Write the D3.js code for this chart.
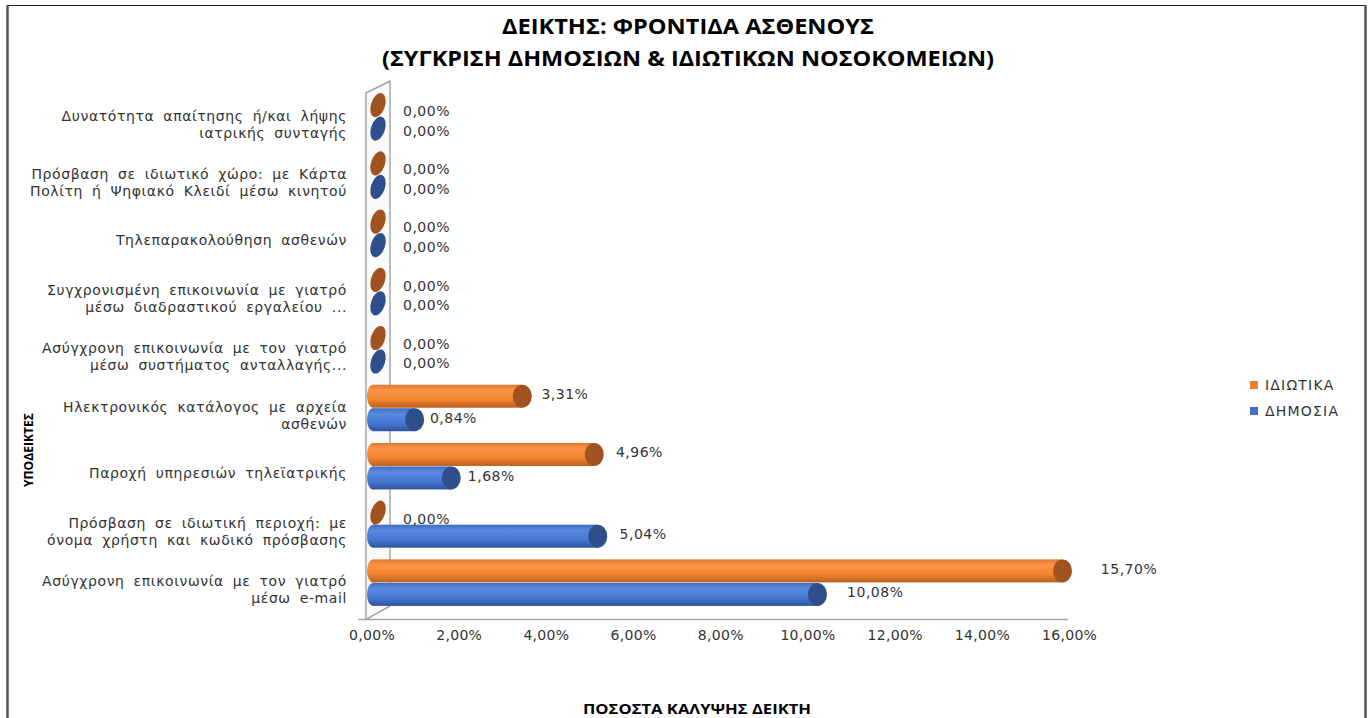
<!DOCTYPE html>
<html><head><meta charset="utf-8">
<script src="https://cdn.jsdelivr.net/npm/d3@7/dist/d3.min.js"></script>
<style>html,body{margin:0;padding:0;background:#fff;}svg{display:block;}</style>
</head><body>
<script>
// ---- data (top to bottom) ----
const categories = [
  ["Δυνατότητα απαίτησης ή/και λήψης", "ιατρικής συνταγής"],
  ["Πρόσβαση σε ιδιωτικό χώρο: με Κάρτα", "Πολίτη ή Ψηφιακό Κλειδί μέσω κινητού"],
  ["Τηλεπαρακολούθηση ασθενών"],
  ["Συγχρονισμένη επικοινωνία με γιατρό", "μέσω διαδραστικού εργαλείου ..."],
  ["Ασύγχρονη επικοινωνία με τον γιατρό", "μέσω συστήματος ανταλλαγής..."],
  ["Ηλεκτρονικός κατάλογος με αρχεία", "ασθενών"],
  ["Παροχή υπηρεσιών τηλεϊατρικής"],
  ["Πρόσβαση σε ιδιωτική περιοχή: με", "όνομα χρήστη και κωδικό πρόσβασης"],
  ["Ασύγχρονη επικοινωνία με τον γιατρό", "μέσω e-mail"]
];
const privateVals = [0, 0, 0, 0, 0, 3.31, 4.96, 0, 15.70];
const publicVals  = [0, 0, 0, 0, 0, 0.84, 1.68, 5.04, 10.08];
const seriesNames = ["ΙΔΙΩΤΙΚΑ", "ΔΗΜΟΣΙΑ"];
const xTicks = [0, 2, 4, 6, 8, 10, 12, 14, 16];
const titleLines = ["ΔΕΙΚΤΗΣ: ΦΡΟΝΤΙΔΑ ΑΣΘΕΝΟΥΣ", "(ΣΥΓΚΡΙΣΗ ΔΗΜΟΣΙΩΝ & ΙΔΙΩΤΙΚΩΝ ΝΟΣΟΚΟΜΕΙΩΝ)"];
const xTitle = "ΠΟΣΟΣΤΑ ΚΑΛΥΨΗΣ ΔΕΙΚΤΗ";
const yTitle = "ΥΠΟΔΕΙΚΤΕΣ";

const fmt = v => v.toFixed(2).replace(".", ",") + "%";

const W = 1368, H = 718;
const svg = d3.select("body").append("svg").attr("width", W).attr("height", H);
const defs = svg.append("defs");

function cylGrad(id, c0, c1, c2, c3) {
  const g = defs.append("linearGradient").attr("id", id)
    .attr("x1", 0).attr("y1", 0).attr("x2", 0).attr("y2", 1);
  g.append("stop").attr("offset", "0%").attr("stop-color", c0);
  g.append("stop").attr("offset", "25%").attr("stop-color", c1);
  g.append("stop").attr("offset", "65%").attr("stop-color", c2);
  g.append("stop").attr("offset", "100%").attr("stop-color", c3);
}
cylGrad("gOr", "#e07a2e", "#fb9448", "#f3832f", "#b9611f");
cylGrad("gBl", "#3f6cc0", "#5a8ae0", "#4577d2", "#2e549c");

const colors = {
  orBody: "url(#gOr)", blBody: "url(#gBl)",
  orCap: "#a0531f", blCap: "#2e4e8c",
  orLeg: "#ed7d31", blLeg: "#4472c4"
};
const txtCol = "#333333";

// border
svg.append("line").attr("x1", 7).attr("x2", 1366).attr("y1", 5.5).attr("y2", 5.5).attr("stroke", "#222").attr("stroke-width", 1.2);
svg.append("line").attr("x1", 7.5).attr("x2", 7.5).attr("y1", 5).attr("y2", H).attr("stroke", "#555").attr("stroke-width", 2.5);
svg.append("line").attr("x1", 1365.5).attr("x2", 1365.5).attr("y1", 5).attr("y2", H).attr("stroke", "#555").attr("stroke-width", 2.5);

// title
svg.append("text").attr("x", 688).attr("y", 34).attr("text-anchor", "middle")
  .attr("font-family", "Open Sans").attr("font-weight", "bold").attr("font-size", 21)
  .attr("fill", "#000").attr("textLength", 372).attr("lengthAdjust", "spacingAndGlyphs").text(titleLines[0]);
svg.append("text").attr("x", 688).attr("y", 66).attr("text-anchor", "middle")
  .attr("font-family", "Open Sans").attr("font-weight", "bold").attr("font-size", 22)
  .attr("fill", "#000").attr("textLength", 612).attr("lengthAdjust", "spacingAndGlyphs").text(titleLines[1]);

// scales
const x = d3.scaleLinear().domain([0, 16]).range([378, 1075.6]);
const y = d3.scaleBand().domain(d3.range(categories.length)).range([88, 612]).padding(0);
const bandC = i => y(i) + y.bandwidth() / 2;
const barH = 23;

// wall and floor
const floorY = 619.5;
svg.append("path")
  .attr("d", `M366,93 L390,81 L390,606 L366,${floorY} Z`)
  .attr("fill", "#fafafa").attr("stroke", "#a6a6a6").attr("stroke-width", 1.5);
svg.append("line").attr("x1", 358).attr("x2", 1068).attr("y1", floorY).attr("y2", floorY)
  .attr("stroke", "#a6a6a6").attr("stroke-width", 1.5);

// x axis
const xAxis = d3.axisBottom(x).tickValues(xTicks).tickFormat(d => fmt(d)).tickSize(0).tickPadding(0);
const gx = svg.append("g").attr("transform", `translate(-6.5, 630)`).call(xAxis);
gx.select(".domain").remove();
gx.selectAll("text").attr("font-family", "DejaVu Sans").attr("font-size", 14).attr("fill", txtCol)
  .attr("letter-spacing", 0.3).attr("dy", "0.71em");

// bars
const series = [
  { vals: privateVals, body: colors.orBody, cap: colors.orCap, off: -barH / 2 - 0.5, zoff: 6 },
  { vals: publicVals,  body: colors.blBody, cap: colors.blCap, off: barH / 2, zoff: 2 }
];
const gBars = svg.append("g");
series.forEach(s => {
  s.vals.forEach((v, i) => {
    const cy = bandC(i) + s.off;
    if (v > 0) {
      const x0 = x(0) - 7, x1 = x(v);
      gBars.append("ellipse").attr("cx", x0 + 2).attr("cy", cy).attr("rx", 6).attr("ry", barH / 2)
        .attr("fill", s.body);
      gBars.append("rect").attr("x", x0 + 2).attr("y", cy - barH / 2).attr("width", x1 - x0 - 2).attr("height", barH)
        .attr("fill", s.body);
      gBars.append("ellipse").attr("cx", x1).attr("cy", cy).attr("rx", 9.5).attr("ry", barH / 2)
        .attr("fill", s.cap);
    } else {
      gBars.append("ellipse").attr("cx", x(v)).attr("cy", cy).attr("rx", 7).attr("ry", 12.5)
        .attr("transform", `rotate(18 ${x(v)} ${cy})`)
        .attr("fill", s.cap);
    }
    const lx = v > 0 ? x(v) + 14 + 1.55 * v : x(v) + 25;
    svg.append("text").attr("x", lx).attr("y", cy + (v > 0 ? -2 : s.zoff)).attr("dy", "0.35em")
      .attr("font-family", "DejaVu Sans").attr("font-size", 14).attr("fill", txtCol)
      .attr("letter-spacing", 0.5).text(fmt(v));
  });
});

// category labels
categories.forEach((lines, i) => {
  const cy = bandC(i) + 7;
  const t = svg.append("text").attr("text-anchor", "end")
    .attr("font-family", "DejaVu Sans").attr("font-size", 14).attr("fill", txtCol)
    .attr("letter-spacing", 0.6).attr("word-spacing", 4);
  const n = lines.length;
  lines.forEach((ln, k) => {
    t.append("tspan").attr("x", 347).attr("y", cy + (k - (n - 1) / 2) * 17).attr("dy", "0.35em").text(ln);
  });
});

// axis titles
svg.append("text").attr("transform", "translate(33,450) rotate(-90)").attr("text-anchor", "middle")
  .attr("font-family", "Open Sans").attr("font-weight", "bold").attr("font-size", 13)
  .attr("fill", "#000").attr("textLength", 74).attr("lengthAdjust", "spacingAndGlyphs").text(yTitle);
svg.append("text").attr("x", 697).attr("y", 714).attr("text-anchor", "middle")
  .attr("font-family", "Open Sans").attr("font-weight", "bold").attr("font-size", 14)
  .attr("fill", "#000").attr("textLength", 228).attr("lengthAdjust", "spacingAndGlyphs").text(xTitle);

// legend
const legColors = [colors.orLeg, colors.blLeg];
const leg = svg.append("g");
seriesNames.forEach((nm, k) => {
  const ly = 385 + k * 26;
  leg.append("rect").attr("x", 1250).attr("y", ly - 4).attr("width", 8).attr("height", 8).attr("fill", legColors[k]);
  leg.append("text").attr("x", 1265).attr("y", ly).attr("dy", "0.35em")
    .attr("font-family", "DejaVu Sans").attr("font-size", 14).attr("fill", txtCol)
    .attr("letter-spacing", 1.2).text(nm);
});
</script>
</body></html>
